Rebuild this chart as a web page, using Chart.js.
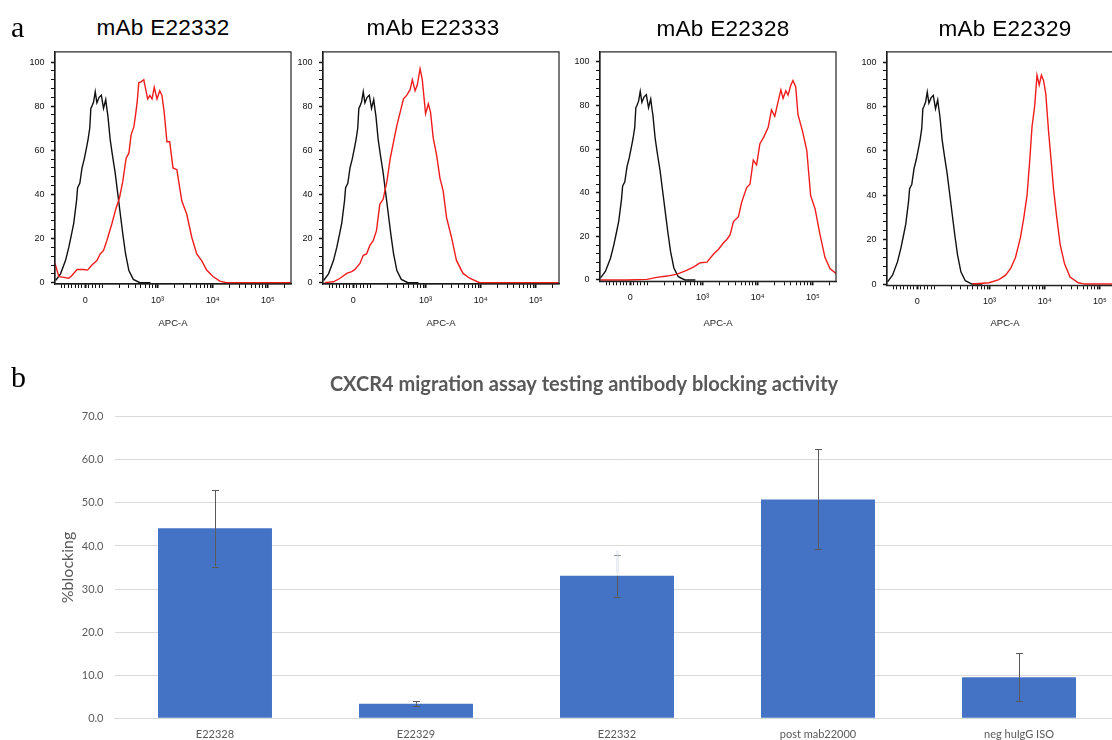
<!DOCTYPE html>
<html>
<head>
<meta charset="utf-8">
<script src="https://cdn.jsdelivr.net/npm/chart.js@4.4.1/dist/chart.umd.min.js"></script>
<style>
html,body{margin:0;padding:0;background:#fff;}
body{width:1112px;height:740px;position:relative;overflow:hidden;}
canvas{position:absolute;}
.lbl{position:absolute;font-family:"Liberation Serif","Times New Roman",serif;font-size:30px;line-height:30px;color:#000;z-index:2}
.pt{position:absolute;width:200px;text-align:center;font-family:"Liberation Sans",Arial,sans-serif;font-size:22.5px;line-height:22.5px;letter-spacing:0.3px;color:#000;z-index:2}
</style>
</head>
<body>
<div class="lbl" style="left:11px;top:12px">a</div>
<div class="lbl" style="left:11px;top:362px">b</div>
<div class="pt" style="left:63px;top:16.8px">mAb E22332</div>
<div class="pt" style="left:333px;top:16.8px">mAb E22333</div>
<div class="pt" style="left:623px;top:17.8px">mAb E22328</div>
<div class="pt" style="left:905px;top:17.8px">mAb E22329</div>
<canvas id="h1"></canvas>
<canvas id="h2"></canvas>
<canvas id="h3"></canvas>
<canvas id="h4"></canvas>
<canvas id="bars"></canvas>
<script>
// ---- panel a: APC-A histograms (x in display decades: 10^3 = 3, 10^4 = 4 ...)
const ctrlX = [1.15,1.24,1.33,1.39,1.44,1.48,1.53,1.55,1.59,1.63,1.67,1.71,1.74,1.77,1.79,1.81,1.84,1.87,1.90,1.94,1.98,2.02,2.06,2.08,2.10,2.14,2.18,2.23,2.28,2.33,2.37,2.42,2.48,2.56,2.68,2.87];
const ctrlY = [1,4,10,16,22,27,37,43,45,52,56,61,65,70,79,80,82,86.5,81.5,84,85,79,83,79,75.5,65,58,50,40,30,22,13,5.5,1.5,0,0];

const e22332X = [1.14,1.21,1.30,1.39,1.45,1.54,1.66,1.73,1.81,1.90,1.96,2.02,2.08,2.17,2.25,2.31,2.37,2.43,2.48,2.52,2.57,2.60,2.63,2.66,2.70,2.75,2.79,2.82,2.86,2.90,2.94,2.99,3.04,3.08,3.12,3.17,3.22,3.28,3.35,3.44,3.53,3.62,3.71,3.80,3.89,4.01,4.13,4.25,5.42];
const e22332Y = [8.7,2.7,2.4,2.0,3.4,6.0,6.0,5.7,8.0,10.0,13.0,14.6,19.0,26.6,34.0,38.5,46.0,56.4,58.7,67.0,70.6,75.8,81.8,90.7,91.0,92.0,87.0,83.3,84.8,83.3,88.5,83.3,87.0,84.8,77.3,63.9,63.9,52.0,51.2,37.0,31.0,20.6,13.0,10.0,5.7,2.7,0.7,0,0];

const e22333X = [1.17,1.33,1.45,1.57,1.66,1.72,1.81,1.87,1.93,1.99,2.05,2.11,2.17,2.23,2.30,2.36,2.42,2.48,2.54,2.60,2.66,2.72,2.76,2.81,2.85,2.90,2.94,3.00,3.05,3.09,3.14,3.20,3.26,3.32,3.38,3.47,3.56,3.68,3.80,3.98,5.42];
const e22333Y = [0,0.4,2,4.2,5,6,8.7,12.4,13,16.9,19,23.6,35.5,37.8,46,56.4,63.9,71.3,77.3,83.3,85,87.5,92,87,89.6,97,92.2,76.6,81,77.3,65.4,57.9,47.5,41.5,29.6,20.6,10.1,4.2,2,0,0];

const e22328X = [1.15,1.63,1.99,2.17,2.36,2.54,2.72,2.84,2.96,3.08,3.20,3.29,3.38,3.44,3.50,3.56,3.65,3.71,3.80,3.86,3.92,3.98,4.04,4.11,4.19,4.25,4.31,4.37,4.42,4.46,4.51,4.55,4.60,4.64,4.69,4.73,4.81,4.89,4.96,5.04,5.13,5.22,5.31,5.42];
const e22328Y = [0,0,0.3,1.2,1.8,2.7,4.5,6,7.9,8.2,11.9,14.1,17.1,18.6,20.8,26.8,29,35.7,42.4,43.9,55,52.8,62.5,65.5,70,78,75.1,81.8,87.2,83.3,86.8,84.8,89.3,91.5,88.5,75.9,68.5,59.5,38.7,32.7,20.8,10.4,5.2,3.0];

const e22329X = [2.69,2.99,3.17,3.29,3.38,3.47,3.56,3.62,3.68,3.73,3.77,3.82,3.86,3.90,3.94,3.98,4.02,4.07,4.12,4.16,4.22,4.28,4.36,4.46,4.61,4.73,5.42];
const e22329Y = [0,0.6,2,4,6.9,12,20.9,29.7,40,56.2,70.9,80.6,94.1,89.7,94.1,91.6,85.6,68.8,54.7,42.9,29.7,17.9,9.1,3.2,0.6,0,0];

const majorX = [1.69, 3, 4, 5];
const majorLabels = ['0', '10\u00B3', '10\u2074', '10\u2075'];

// ---- panel b: migration assay
const groups = ['E22328', 'E22329', 'E22332', 'post mab22000', 'neg huIgG ISO'];
const blocking = [44.1, 3.4, 33.1, 50.8, 9.5];
const blockingErr = [8.9, 0.6, 4.9, 11.6, 5.6];

// tick marks of the logicle axis
let xTicks = majorX.slice();
for (let v = -140; v <= 80; v += 20) if (v !== 0) xTicks.push(1.69 + v * 0.0031);
xTicks.push(2);
for (let d = 2; d <= 5; d++) for (let k = 2; k <= 9; k++) {
  const t = d + Math.log10(k);
  if (t < 5.42) xTicks.push(t);
}
xTicks.sort((a, b) => a - b);
const yTicks = [];
for (let v = 0; v <= 100; v += 4) yTicks.push(v);

const isMajor = v => majorX.some(m => Math.abs(m - v) < 1e-6);
const pts = (xs, ys) => xs.map((x, i) => ({x, y: ys[i]}));

const frame = {
  id: 'frame',
  afterDatasetsDraw(chart) {
    const {ctx, chartArea: a} = chart;
    ctx.save();
    ctx.strokeStyle = '#222';
    ctx.lineWidth = 1.2;
    ctx.strokeRect(a.left, a.top, a.right - a.left, a.bottom - a.top);
    ctx.restore();
  }
};

const panels = [
  {id: 'h1', boxL: 55, boxR: 290.7, boxT: 49, boxB: 284, x: e22332X, y: e22332Y},
  {id: 'h2', boxL: 323.3, boxR: 559, boxT: 49, boxB: 284, x: e22333X, y: e22333Y},
  {id: 'h3', boxL: 600, boxR: 835.7, boxT: 45.5, boxB: 281.3, x: e22328X, y: e22328Y},
  {id: 'h4', boxL: 886.7, boxR: 1122.4, boxT: 46.8, boxB: 285.4, x: e22329X, y: e22329Y}
];

const sans = '"Liberation Sans", Arial, sans-serif';

panels.forEach(p => {
  const cv = document.getElementById(p.id);
  const left = p.boxL - 45;
  cv.width = Math.round(p.boxR - left + 12);
  cv.height = 300;
  cv.style.left = left + 'px';
  cv.style.top = '40px';
  new Chart(cv, {
    type: 'scatter',
    data: {
      datasets: [
        {data: pts(p.x, p.y), showLine: true, borderColor: '#f01c1c', borderWidth: 1.4, pointRadius: 0, tension: 0},
        {data: pts(ctrlX, ctrlY), showLine: true, borderColor: '#111', borderWidth: 1.4, pointRadius: 0, tension: 0}
      ]
    },
    options: {
      responsive: false,
      animation: false,
      layout: {padding: {left: 0, right: 12, top: p.boxT - 40, bottom: 0}},
      plugins: {legend: {display: false}, tooltip: {enabled: false}},
      scales: {
        x: {
          type: 'linear', min: 1.14, max: 5.42,
          afterBuildTicks: s => { s.ticks = xTicks.map(v => ({value: v})); },
          afterFit: s => { s.height = 340 - p.boxB; },
          ticks: {
            autoSkip: false, maxRotation: 0, padding: 7, color: '#111',
            font: {family: sans, size: 9},
            callback: v => { const i = majorX.findIndex(m => Math.abs(m - v) < 1e-6); return i >= 0 ? majorLabels[i] : ''; }
          },
          grid: {display: true, drawOnChartArea: false, drawTicks: true, tickLength: 4, tickColor: '#111',
                 tickWidth: c => (c.tick && isMajor(c.tick.value)) ? 2 : 1},
          border: {display: true, color: '#111', width: 1.2},
          title: {display: true, text: 'APC-A', color: '#222', font: {family: sans, size: 9.5}, padding: {top: 0, bottom: 10.8}}
        },
        y: {
          min: -0.6, max: 104.6,
          afterBuildTicks: s => { s.ticks = yTicks.map(v => ({value: v})); },
          afterFit: s => { s.width = 45; },
          ticks: {autoSkip: false, padding: 6.5, color: '#111', font: {family: sans, size: 9},
                  callback: v => (v % 20 === 0 ? String(v) : '')},
          grid: {display: true, drawOnChartArea: false, drawTicks: true, tickLength: 4, tickColor: '#111',
                 tickWidth: c => (c.tick && c.tick.value % 20 === 0) ? 1.5 : 1},
          border: {display: true, color: '#111', width: 1.2}
        }
      }
    },
    plugins: [frame]
  });
});

// ---- panel b chart
const errorBars = {
  id: 'errorBars',
  afterDatasetsDraw(chart) {
    const {ctx} = chart;
    const ys = chart.scales.y;
    const meta = chart.getDatasetMeta(0);
    ctx.save();
    meta.data.forEach((bar, i) => {
      const x = Math.round(bar.x) + 0.5;
      const hi = ys.getPixelForValue(blocking[i] + blockingErr[i]);
      const lo = ys.getPixelForValue(blocking[i] - blockingErr[i]);
      const mid = ys.getPixelForValue(blocking[i]);
      const cap = 3.5;
      ctx.lineWidth = 1;
      ctx.strokeStyle = '#5a5a5a';
      ctx.beginPath();
      ctx.moveTo(x, mid); ctx.lineTo(x, lo);
      ctx.moveTo(x - cap, Math.round(lo) + 0.5); ctx.lineTo(x + cap, Math.round(lo) + 0.5);
      ctx.stroke();
      if (groups[i] === 'E22332') {
        // upper whisker is washed out in the original figure
        ctx.strokeStyle = '#eceef6';
        ctx.lineWidth = 3;
        ctx.beginPath(); ctx.moveTo(x, mid - 2); ctx.lineTo(x, hi - 4); ctx.stroke();
        ctx.strokeStyle = '#9a9a9a';
        ctx.lineWidth = 1;
      }
      ctx.beginPath();
      if (groups[i] !== 'E22332') { ctx.moveTo(x, mid); ctx.lineTo(x, hi); }
      ctx.moveTo(x - cap, Math.round(hi) + 0.5); ctx.lineTo(x + cap, Math.round(hi) + 0.5);
      ctx.stroke();
    });
    ctx.restore();
  }
};

const bcv = document.getElementById('bars');
bcv.width = 1124;
bcv.height = 374;
bcv.style.left = '0px';
bcv.style.top = '366px';
const lato = 'Lato, "Open Sans", sans-serif';

new Chart(bcv, {
  type: 'bar',
  data: {
    labels: groups,
    datasets: [{data: blocking, backgroundColor: '#4472C4', barPercentage: 0.567, categoryPercentage: 1}]
  },
  options: {
    responsive: false,
    animation: false,
    layout: {padding: {left: 48.5, right: 4.5, top: 0, bottom: 0}},
    plugins: {
      legend: {display: false},
      tooltip: {enabled: false},
      title: {display: true, text: 'CXCR4 migration assay testing antibody blocking activity',
              color: '#595959', font: {family: lato, size: 20, weight: 'bold'}, padding: {top: 7, bottom: 19.7}}
    },
    scales: {
      x: {
        grid: {display: false, drawTicks: false},
        border: {display: true, color: '#d9d9d9'},
        ticks: {color: '#595959', font: {family: lato, size: 11}, padding: 10, maxRotation: 0},
        afterFit: s => { s.height = 21.7; }
      },
      y: {
        min: 0, max: 70,
        ticks: {stepSize: 10, padding: 11, color: '#595959', font: {family: lato, size: 11},
                callback: v => Number(v).toFixed(1)},
        grid: {color: '#d9d9d9', drawTicks: false},
        border: {display: false},
        title: {display: true, text: '%blocking', color: '#595959', font: {family: lato, size: 16},
                padding: {top: 9.9, bottom: 0}},
        afterFit: s => { s.width = 66; }
      }
    }
  },
  plugins: [errorBars]
});
</script>
</body>
</html>
